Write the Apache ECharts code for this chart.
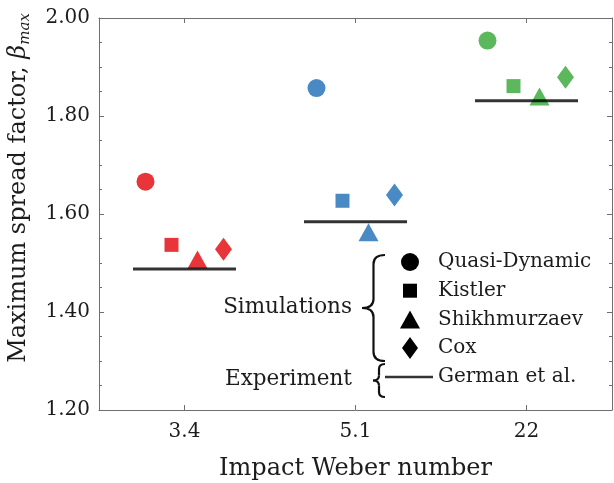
<!DOCTYPE html>
<html>
<head>
<meta charset="utf-8">
<script src="https://cdn.jsdelivr.net/npm/echarts@6/dist/echarts.min.js"></script>
<style>html,body{margin:0;padding:0;background:#fff;}#c{width:614px;height:483px;}</style>
</head>
<body>
<div id="c"></div>
<script>
const categories = ['3.4', '5.1', '22'];
const quasiDynamic = [1.666, 1.857, 1.954];
const kistler = [1.537, 1.627, 1.861];
const shikhmurzaev = [1.507, 1.563, 1.840];
const cox = [1.528, 1.639, 1.879];
const german = [1.488, 1.584, 1.831];
const groupColors = ['#e8353a', '#4a8ac4', '#5cb85c'];
const yMin = 1.2, yMax = 2.0, yStep = 0.2;

const FONT = 'DejaVu Serif';
const TXT = '#1c1c1c';
const AX = '#6e6e6e';

function pts(vals) {
  return vals.map((v, i) => ({ value: [categories[i], v], itemStyle: { color: groupColors[i] } }));
}
function sim(name, vals, symbol, size, dx) {
  return {
    name, type: 'scatter', data: pts(vals), symbol, symbolSize: size,
    symbolOffset: [dx, 0], itemStyle: { color: '#000', opacity: 1 }, z: 2,
    emphasis: { disabled: true }
  };
}
function brace(x0, x1, yTop, yBot, r) {
  const xm = (x0 + x1) / 2, ym = (yTop + yBot) / 2;
  const st = { stroke: '#111', lineWidth: 2.2, fill: null };
  return [
    { type: 'bezierCurve', shape: { x1: x1, y1: yTop, x2: xm, y2: yTop + r, cpx1: xm, cpy1: yTop }, style: st },
    { type: 'line', shape: { x1: xm, y1: yTop + r, x2: xm, y2: ym - r }, style: st },
    { type: 'bezierCurve', shape: { x1: xm, y1: ym - r, x2: x0, y2: ym, cpx1: xm, cpy1: ym }, style: st },
    { type: 'bezierCurve', shape: { x1: x0, y1: ym, x2: xm, y2: ym + r, cpx1: xm, cpy1: ym }, style: st },
    { type: 'line', shape: { x1: xm, y1: ym + r, x2: xm, y2: yBot - r }, style: st },
    { type: 'bezierCurve', shape: { x1: xm, y1: yBot - r, x2: x1, y2: yBot, cpx1: xm, cpy1: yBot }, style: st }
  ];
}

const chart = echarts.init(document.getElementById('c'), null, { renderer: 'canvas' });
const axisCommon = {
  axisLine: { show: true, lineStyle: { color: AX, width: 1 } },
  axisTick: { show: true, inside: true, length: 5, lineStyle: { color: AX } },
  splitLine: { show: false }
};
chart.setOption({
  animation: false,
  backgroundColor: '#fff',
  grid: { left: 99, right: 2, top: 18, bottom: 73, containLabel: false, outerBoundsMode: 'none' },
  xAxis: [
    Object.assign({}, axisCommon, {
      type: 'category', data: categories, position: 'bottom',
      axisTick: { show: true, inside: true, length: 5, alignWithLabel: true, lineStyle: { color: AX } },
      axisLabel: { fontFamily: FONT, fontSize: 20, color: TXT, margin: 12 },
      name: 'Impact Weber number', nameLocation: 'middle', nameGap: 47,
      nameTextStyle: { fontFamily: FONT, fontSize: 24, color: TXT }
    }),
    Object.assign({}, axisCommon, {
      type: 'category', data: categories, position: 'top',
      axisTick: { show: true, inside: true, length: 5, alignWithLabel: true, lineStyle: { color: AX } },
      axisLabel: { show: false }
    })
  ],
  yAxis: [
    Object.assign({}, axisCommon, {
      type: 'value', min: yMin, max: yMax, interval: yStep, position: 'left',
      minorTick: { show: true, splitNumber: 4, length: 3, lineStyle: { color: AX } },
      axisLabel: { fontFamily: FONT, fontSize: 20, color: TXT, margin: 9, formatter: v => v.toFixed(2) },
      name: 'Maximum spread factor, {b|β}{s|max}', nameLocation: 'middle', nameGap: 66, nameRotate: 90,
      nameTextStyle: {
        fontFamily: FONT, fontSize: 24, color: TXT, padding: [0, 0, 0, 52],
        rich: {
          b: { fontFamily: FONT, fontSize: 24, fontStyle: 'italic', color: TXT },
          s: { fontFamily: FONT, fontSize: 15, fontStyle: 'italic', color: TXT, verticalAlign: 'bottom', padding: [14, 0, 0, 0] }
        }
      }
    }),
    Object.assign({}, axisCommon, {
      type: 'value', min: yMin, max: yMax, interval: yStep, position: 'right',
      minorTick: { show: true, splitNumber: 4, length: 3, lineStyle: { color: AX } },
      axisLabel: { show: false }
    })
  ],
  legend: [
    {
      orient: 'vertical', left: 400, top: 251, padding: 0, itemGap: 6.7,
      itemWidth: 20, itemHeight: 22, selectedMode: false,
      textStyle: { fontFamily: FONT, fontSize: 20, color: TXT, padding: [0, 0, 0, 13] },
      data: [
        { name: 'Quasi-Dynamic', icon: 'path://M0,0M20,22M19,11A9,9 0 1 1 1,11A9,9 0 1 1 19,11Z' },
        { name: 'Kistler', icon: 'path://M0,0M20,22M3,4L17,4L17,18L3,18Z' },
        { name: 'Shikhmurzaev', icon: 'path://M0,0M20,22M10,2L20,20L0,20Z' },
        { name: 'Cox', icon: 'path://M0,0M20,22M10,0L18,11L10,22L2,11Z' }
      ]
    },
    {
      orient: 'vertical', left: 385, top: 367, padding: 0,
      itemWidth: 48, itemHeight: 2.5, selectedMode: false,
      textStyle: { fontFamily: FONT, fontSize: 20, color: TXT },
      data: [{ name: 'German et al.', icon: 'rect' }]
    }
  ],
  graphic: [].concat(
    brace(362, 385, 255, 361, 9),
    brace(373, 385, 364, 397, 5),
    [
      { type: 'text', x: 352, y: 307, style: { text: 'Simulations', font: '21.5px "DejaVu Serif"', fill: TXT, align: 'right', verticalAlign: 'middle' } },
      { type: 'text', x: 352, y: 379, style: { text: 'Experiment', font: '21.5px "DejaVu Serif"', fill: TXT, align: 'right', verticalAlign: 'middle' } }
    ]
  ),
  series: [
    sim('Quasi-Dynamic', quasiDynamic, 'circle', 18, -39),
    sim('Kistler', kistler, 'rect', 14, -13),
    sim('Shikhmurzaev', shikhmurzaev, 'triangle', [20, 18], 13),
    sim('Cox', cox, 'diamond', [17, 23], 39),
    {
      name: 'German et al.', type: 'scatter', symbol: 'rect', symbolSize: [103, 3],
      data: german.map((v, i) => [categories[i], v]),
      itemStyle: { color: '#000' }, z: 5, emphasis: { disabled: true }
    }
  ]
});
</script>
</body>
</html>
